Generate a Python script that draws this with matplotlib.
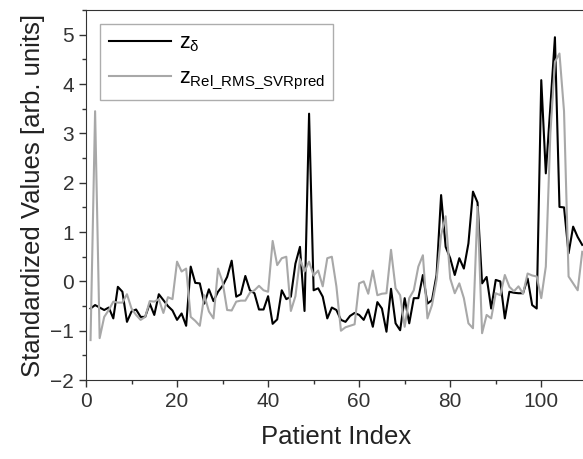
import numpy as np
import matplotlib.pyplot as plt
from matplotlib.ticker import MultipleLocator

plt.rcParams['font.family'] = ['Liberation Sans', 'DejaVu Sans']
plt.rcParams['mathtext.fontset'] = 'custom'
plt.rcParams['mathtext.rm'] = 'Liberation Sans'
plt.rcParams['mathtext.it'] = 'Liberation Sans:italic'

# Patient index 1..109
idx = np.arange(1, 110)

z_delta = [-0.55, -0.48, -0.53, -0.58, -0.53, -0.75, -0.11, -0.21, -0.82, -0.61,
           -0.57, -0.72, -0.72, -0.45, -0.68, -0.26, -0.38, -0.50, -0.59, -0.78,
           -0.65, -0.90, 0.30, -0.03, -0.04, -0.45, -0.16, -0.40, -0.21, -0.09,
           0.09, 0.42, -0.31, -0.26, 0.11, -0.18, -0.24, -0.57, -0.57, -0.30,
           -0.86, -0.77, -0.18, -0.36, -0.31, 0.36, 0.70, -0.60, 3.40, -0.18,
           -0.14, -0.31, -0.75, -0.53, -0.58, -0.78, -0.82, -0.70, -0.64, -0.68,
           -0.78, -0.57, -0.92, -0.42, -0.55, -1.02, -0.15, -0.85, -0.99, -0.34,
           -0.85, -0.34, -0.34, 0.13, -0.45, -0.38, 0.13, 1.75, 0.70, 0.47,
           0.13, 0.47, 0.26, 0.77, 1.82, 1.60, -0.04, 0.09, -0.55, 0.03,
           0.00, -0.75, -0.21, -0.23, -0.24, -0.24, 0.06, -0.48, -0.55, 4.08,
           2.19, 3.55, 4.95, 1.51, 1.50, 0.57, 1.11, 0.90, 0.74]

z_rel_rms = [-1.19, 3.45, -1.15, -0.72, -0.58, -0.41, -0.43, -0.43, -0.26, -0.55,
             -0.68, -0.78, -0.72, -0.40, -0.41, -0.36, -0.64, -0.32, -0.36, 0.40,
             0.20, 0.26, -0.72, -0.80, -0.90, -0.28, -0.61, -0.75, 0.26, -0.01,
             -0.58, -0.59, -0.41, -0.39, -0.39, -0.23, -0.18, -0.09, -0.18, -0.21,
             0.82, 0.33, 0.47, 0.50, -0.60, -0.30, 0.45, 0.20, 0.40, 0.12,
             0.22, -0.10, 0.47, 0.50, -0.10, -1.00, -0.93, -0.90, -0.87, -0.04,
             0.00, -0.25, 0.22, -0.28, -0.25, -0.24, 0.64, -0.14, -0.28, -0.92,
             -0.34, -0.18, 0.30, 0.53, -0.75, -0.48, 0.03, 0.94, 1.32, 0.06,
             -0.24, -0.04, -0.34, -0.85, -0.95, 1.51, -1.05, -0.68, -0.75, -0.24,
             -0.28, 0.13, -0.11, -0.20, -0.10, -0.25, 0.16, 0.12, 0.10, -0.34,
             0.30, 3.00, 4.45, 4.62, 3.45, 0.10, -0.04, -0.18, 0.60]

fig = plt.figure(figsize=(5.83, 4.59), dpi=100)
ax = fig.add_axes([0.1475, 0.172, 0.859, 0.806])

ax.plot(idx, z_delta, color='black', lw=1.5, label=r'z$_\mathrm{\delta}$')
ax.plot(idx, z_rel_rms, color='#a8a8a8', lw=1.5, label=r'z$_\mathregular{Rel\_RMS\_SVRpred}$')

ax.set_xlim(0, 110)
ax.set_ylim(-2, 5.5)
ax.xaxis.set_major_locator(MultipleLocator(20))
ax.xaxis.set_minor_locator(MultipleLocator(10))
ax.yaxis.set_major_locator(MultipleLocator(1))
ax.yaxis.set_minor_locator(MultipleLocator(0.5))
ax.tick_params(which='major', direction='out', length=5, width=1, labelsize=15, colors='#333333')
ax.tick_params(which='minor', direction='out', length=3, width=1, colors='#333333')
for s in ax.spines.values():
    s.set_color('#333333')

ax.set_xlabel('Patient Index', fontsize=18.5, color='#222222', labelpad=10)
ax.set_ylabel('Standardized Values [arb. units]', fontsize=18.5, color='#222222', labelpad=4)

leg = ax.legend(loc='upper left', fontsize=15.5, frameon=True, fancybox=False,
                edgecolor='#999999', handlelength=2.9, handletextpad=0.35,
                borderaxespad=0.65, labelspacing=0.6, borderpad=0.4)
leg.get_frame().set_linewidth(1)

fig.savefig('out.png', dpi=100)
